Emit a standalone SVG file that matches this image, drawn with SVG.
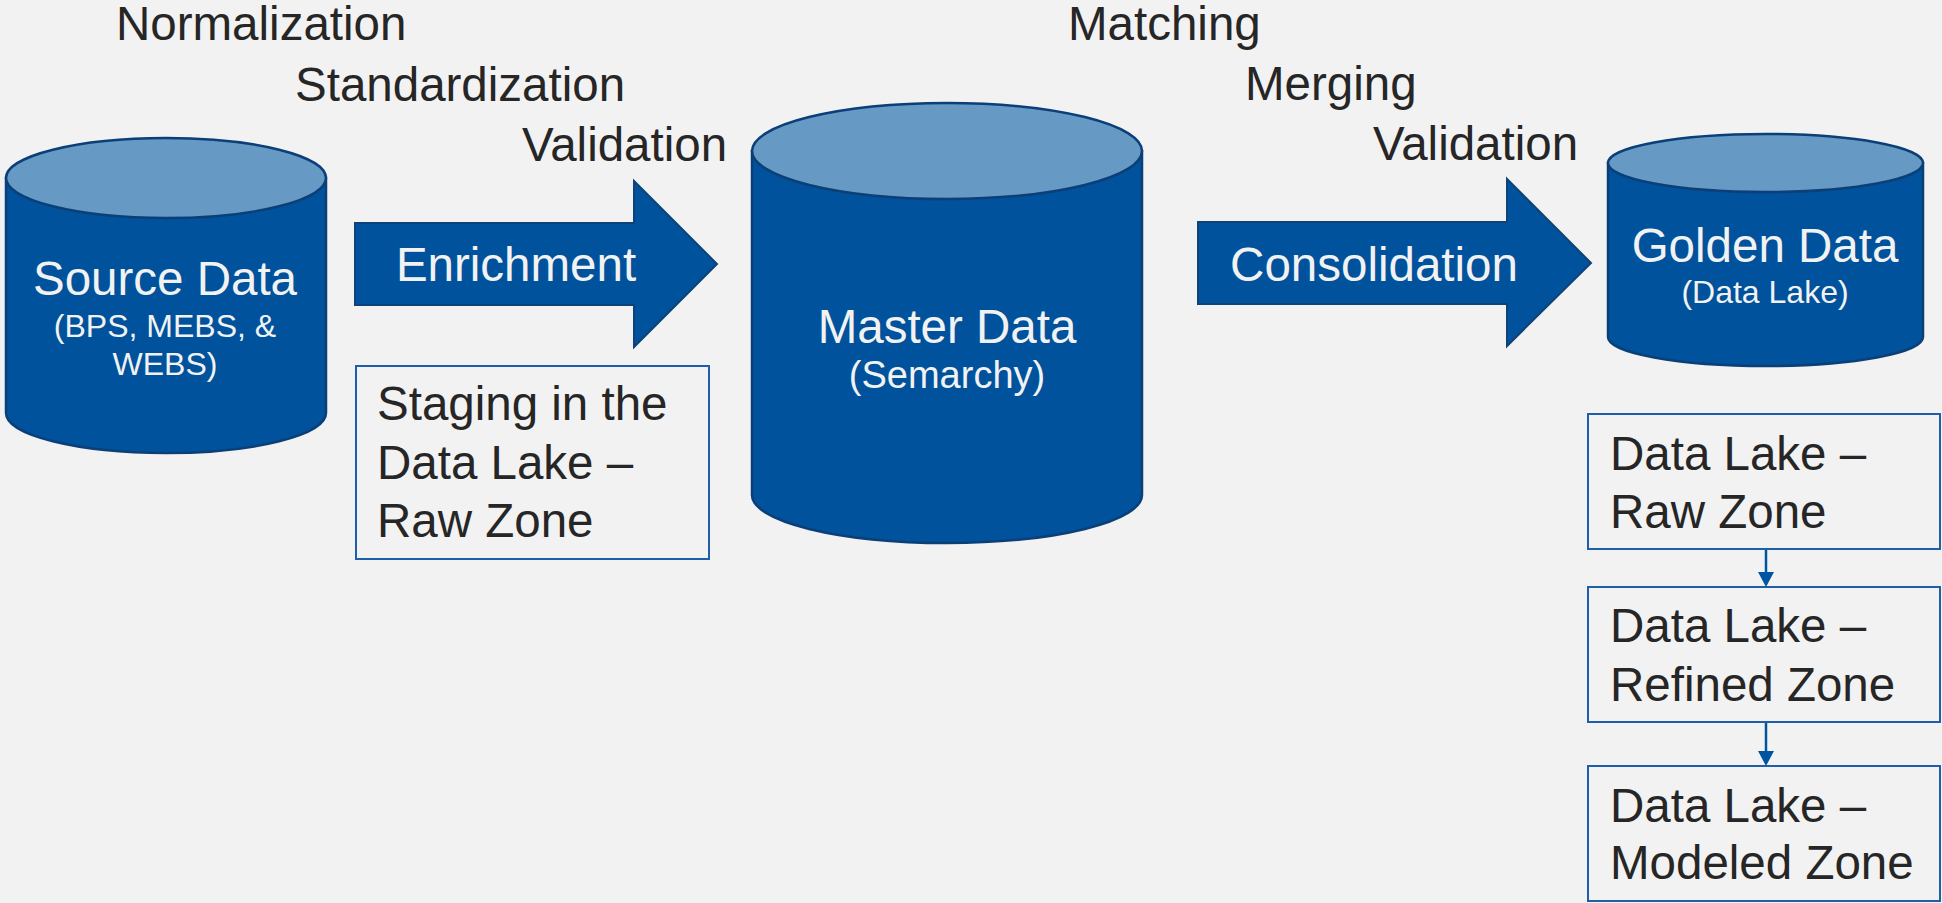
<svg xmlns="http://www.w3.org/2000/svg" width="1942" height="903" viewBox="0 0 1942 903">
<defs>
<style>
.bg{fill:#f2f2f2}
.body{fill:#00529c;stroke:#0b3f78;stroke-width:2.5}
.top{fill:#6699c4;stroke:#0b3f78;stroke-width:2.5}
.arrow{fill:#00529c;stroke:#0d4379;stroke-width:2}
.box{fill:#f2f2f2;stroke:#1f5fa8;stroke-width:2}
.lt{font-family:"Liberation Sans",Arial,sans-serif;fill:#f2f2f2;text-anchor:middle}
.dk{font-family:"Liberation Sans",Arial,sans-serif;fill:#262626;font-size:47.5px}
.big{font-size:47.5px}
.conn{stroke:#0055a0;stroke-width:2.5;fill:none}
.head{fill:#0055a0}
</style>
</defs>
<rect class="bg" x="0" y="0" width="1942" height="903"/>

<g id="labels-left">
<text class="dk" x="116" y="40">Normalization</text>
<text class="dk" x="295" y="101">Standardization</text>
<text class="dk" x="522" y="161">Validation</text>
</g>
<g id="labels-right">
<text class="dk" x="1068" y="40">Matching</text>
<text class="dk" x="1245" y="100">Merging</text>
<text class="dk" x="1373" y="160">Validation</text>
</g>

<g id="source-data">
<path class="body" d="M6,178 L6,413 A160,40 0 0 0 326,413 L326,178 Z"/>
<ellipse class="top" cx="166" cy="178" rx="160" ry="40"/>
<text class="lt big" x="165" y="295">Source Data</text>
<text class="lt" x="165" y="337" font-size="32">(BPS, MEBS, &amp;</text>
<text class="lt" x="165" y="375" font-size="32">WEBS)</text>
</g>

<g id="enrichment">
<path class="arrow" d="M355,223 L634,223 L634,181 L717,264 L634,347 L634,305 L355,305 Z"/>
<text class="lt big" x="516" y="281">Enrichment</text>
</g>

<g id="staging">
<rect class="box" x="356" y="366" width="353" height="193"/>
<text class="dk" x="377" y="420">Staging in the</text>
<text class="dk" x="377" y="479">Data Lake –</text>
<text class="dk" x="377" y="537">Raw Zone</text>
</g>

<g id="master-data">
<path class="body" d="M752,151 L752,495 A195,48 0 0 0 1142,495 L1142,151 Z"/>
<ellipse class="top" cx="947" cy="151" rx="195" ry="48"/>
<text class="lt big" x="947" y="343">Master Data</text>
<text class="lt" x="947" y="388" font-size="38">(Semarchy)</text>
</g>

<g id="consolidation">
<path class="arrow" d="M1198,222 L1507,222 L1507,179 L1591,263 L1507,346 L1507,304 L1198,304 Z"/>
<text class="lt big" x="1374" y="281">Consolidation</text>
</g>

<g id="golden-data">
<path class="body" d="M1608,163 L1608,337 A157.5,29 0 0 0 1923,337 L1923,163 Z"/>
<ellipse class="top" cx="1765.5" cy="163" rx="157.5" ry="29"/>
<text class="lt big" x="1765" y="262">Golden Data</text>
<text class="lt" x="1765" y="303" font-size="32">(Data Lake)</text>
</g>

<g id="raw-zone">
<rect class="box" x="1588" y="414" width="352" height="135"/>
<text class="dk" x="1610" y="470">Data Lake –</text>
<text class="dk" x="1610" y="528">Raw Zone</text>
</g>
<g id="refined-zone">
<rect class="box" x="1588" y="587" width="352" height="135"/>
<text class="dk" x="1610" y="642">Data Lake –</text>
<text class="dk" x="1610" y="701">Refined Zone</text>
</g>
<g id="modeled-zone">
<rect class="box" x="1588" y="766" width="352" height="135"/>
<text class="dk" x="1610" y="822">Data Lake –</text>
<text class="dk" x="1610" y="879">Modeled Zone</text>
</g>

<g id="connectors">
<line class="conn" x1="1766" y1="550" x2="1766" y2="574"/>
<polygon class="head" points="1758,572 1774,572 1766,587"/>
<line class="conn" x1="1766" y1="723" x2="1766" y2="753"/>
<polygon class="head" points="1758,751 1774,751 1766,766"/>
</g>
</svg>
